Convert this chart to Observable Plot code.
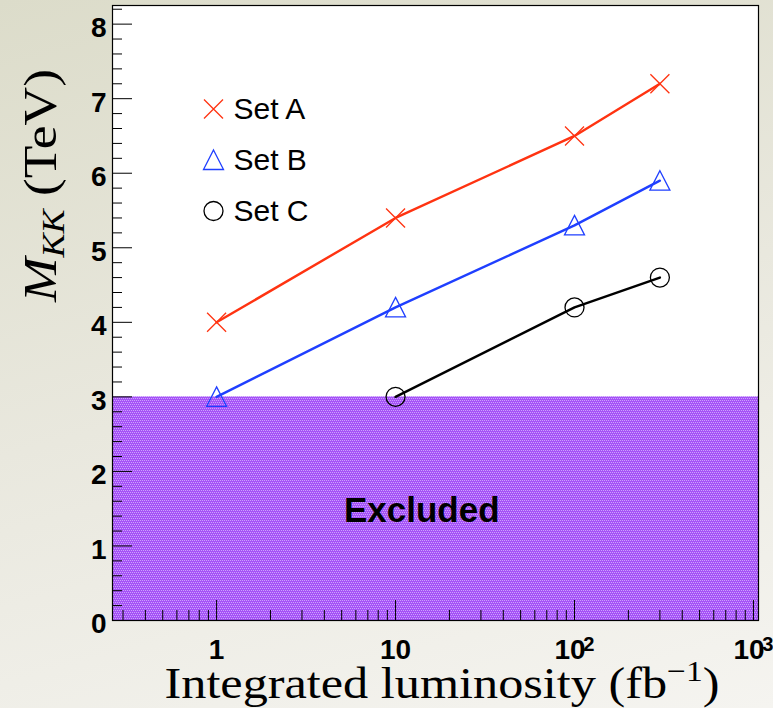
<!DOCTYPE html>
<html><head><meta charset="utf-8">
<script src="https://cdn.jsdelivr.net/npm/d3@7"></script>
<script src="https://cdn.jsdelivr.net/npm/@observablehq/plot@0.6"></script>
<style>
html,body{margin:0;padding:0;}
body{width:773px;height:708px;overflow:hidden;background:linear-gradient(165deg,#dcdcca 0%,#e9e8de 50%,#f5f4f0 100%);}
#chart svg{display:block;}
</style></head><body><div id="chart"></div>
<script>
// ---- data ----
const lumiA = [1, 10, 100, 300];
const massA = [4.0, 5.4, 6.5, 7.2];
const lumiB = [1, 10, 100, 300];
const massB = [3.0, 4.2, 5.3, 5.9];
const lumiC = [10, 100, 300];
const massC = [3.0, 4.2, 4.6];
const seriesNames = ["Set A", "Set B", "Set C"];
const seriesColors = ["#ff3311", "#1f3fff", "#000000"];
const excludedLimit = 3;
const excludedLabel = "Excluded";
const excludedLabelAt = {x: 14, y: 1.47};
const xDomain = [0.262, 1067];
const yDomain = [0, 8.25];
const xMajorTicks = [1, 10, 100, 1000];
const xTickLabels = ["1", "10", "10²", "10³"];
const yMajorTicks = [0, 1, 2, 3, 4, 5, 6, 7, 8];
const yTickLabels = ["0", "1", "2", "3", "4", "5", "6", "7", "8"];
const xTitle = "Integrated luminosity (fb";
const xTitleSup = "−1";
const yTitleMain = "M";
const yTitleSub = "KK";
const yTitleUnit = " (TeV)";

// ---- layout ----
const W = 773, H = 708;
const mL = 112, mR = 15, mT = 5, mB = 88;
const frameW = W - mL - mR, frameH = H - mT - mB;
const sansFont = "Liberation Sans, Arial, Helvetica, sans-serif";
const serifFont = "Liberation Serif, Times New Roman, serif";

const xMinorTicks = [];
for (const dec of [0.1, 1, 10, 100]) for (let m = 2; m <= 9; m++) {
  const v = m * dec; if (v > xDomain[0] && v < xDomain[1]) xMinorTicks.push(v);
}
const yMinorTicks = d3.range(1, 42).map(i => i / 5).filter(v => Math.abs(v - Math.round(v)) > 1e-6);

const symTimes = {draw(c, s) {const r = Math.sqrt(s / Math.PI); c.moveTo(-r, -r); c.lineTo(r, r); c.moveTo(-r, r); c.lineTo(r, -r);}};
const symTri = {draw(c, s) {const r = Math.sqrt(s / Math.PI); c.moveTo(0, -r); c.lineTo(r, r * 0.95); c.lineTo(-r, r * 0.95); c.closePath();}};
const symCirc = {draw(c, s) {const r = Math.sqrt(s / Math.PI); c.moveTo(r, 0); c.arc(0, 0, r, 0, 2 * Math.PI);}};

const series = [
  {name: seriesNames[0], color: seriesColors[0], symbol: symTimes, r: 9.5, pts: lumiA.map((x, i) => ({x, y: massA[i]}))},
  {name: seriesNames[1], color: seriesColors[1], symbol: symTri, r: 10, pts: lumiB.map((x, i) => ({x, y: massB[i]}))},
  {name: seriesNames[2], color: seriesColors[2], symbol: symCirc, r: 9.5, pts: lumiC.map((x, i) => ({x, y: massC[i]}))}
];

const marks = [
  Plot.frame({fill: "white"}),
  Plot.rect([{x1: xDomain[0], x2: xDomain[1], y1: 0, y2: excludedLimit}], {x1: "x1", x2: "x2", y1: "y1", y2: "y2", fill: "url(#exclPat)"}),
  Plot.ruleY(yMajorTicks, {y: d => d, insetRight: frameW - 20, stroke: "#000", strokeWidth: 1}),
  Plot.ruleY(yMinorTicks, {y: d => d, insetRight: frameW - 10, stroke: "#000", strokeWidth: 1}),
  Plot.ruleX(xMajorTicks.filter(v => v < xDomain[1]), {x: d => d, insetTop: frameH - 20, stroke: "#000", strokeWidth: 1}),
  Plot.ruleX(xMinorTicks, {x: d => d, insetTop: frameH - 10, stroke: "#000", strokeWidth: 1}),
  Plot.axisX(xMajorTicks, {tickSize: 0, tickPadding: 19, tickFormat: d => xTickLabels[xMajorTicks.indexOf(d)], label: null}),
  Plot.axisY(yMajorTicks, {tickSize: 0, tickPadding: 6, dy: 4, tickFormat: d => yTickLabels[yMajorTicks.indexOf(d)], label: null}),
  Plot.text([excludedLabelAt], {x: "x", y: "y", text: () => excludedLabel, fontSize: 35, fontWeight: "bold", fontFamily: sansFont, fill: "#000"})
];
for (const s of series) {
  marks.push(Plot.line(s.pts, {x: "x", y: "y", stroke: s.color, strokeWidth: 2.4}));
  marks.push(Plot.dot(s.pts, {x: "x", y: "y", symbol: s.symbol, r: s.r, stroke: s.color, fill: "none", strokeWidth: 1.3}));
}
series.forEach((s, i) => {
  marks.push(Plot.dot([s], {frameAnchor: "top-left", dx: 101, dy: 103.5 + 51 * i, symbol: s.symbol, r: s.r, stroke: s.color, fill: "none", strokeWidth: 1.3}));
  marks.push(Plot.text([s], {frameAnchor: "top-left", dx: 121, dy: 104 + 51 * i, text: "name", textAnchor: "start", lineAnchor: "middle", fontSize: 30, fontFamily: sansFont, fill: "#000"}));
});
marks.push(Plot.frame({stroke: "#000", strokeWidth: 1.2}));

const chart = Plot.plot({
  width: W, height: H,
  marginLeft: mL, marginRight: mR, marginTop: mT, marginBottom: mB,
  style: {background: "transparent", color: "#000"},
  x: {type: "log", domain: xDomain},
  y: {domain: yDomain},
  marks
});

const svg = d3.select(chart);
const defs = svg.insert("defs", ":first-child");
const pat = defs.append("pattern").attr("id", "exclPat").attr("patternUnits", "userSpaceOnUse").attr("width", 4).attr("height", 4);
pat.append("rect").attr("width", 4).attr("height", 4).attr("fill", "#a552f7");
for (const [px, py] of [[0, 0], [2, 0], [1, 2], [3, 2]]) {
  pat.append("rect").attr("x", px).attr("y", py).attr("width", 1).attr("height", 1).attr("fill", "#cda2fc");
}

// tick label fonts: style every tick-label text element directly
const tickLabelSet = new Set([...xTickLabels, ...yTickLabels]);
svg.selectAll("text").each(function() {
  if (tickLabelSet.has(this.textContent)) {
    d3.select(this).style("font-family", sansFont).style("font-weight", "bold").style("font-size", "28px").style("fill", "#000");
  }
});

// superscripts on x tick labels
svg.selectAll("text").each(function() {
  const t = d3.select(this);
  const m = /^10([²³])$/.exec(this.textContent);
  if (m) {
    const sup = m[1] === "²" ? "2" : "3";
    t.text(null);
    t.append("tspan").text("10");
    t.append("tspan").attr("font-size", "0.72em").attr("dx", "-0.12em").attr("dy", "-0.42em").text(sup);
  }
});

// axis titles
const xs = chart.scale("x").range, ys = chart.scale("y").range;
const xt = svg.append("text").attr("x", (xs[0] + xs[1]) / 2 + 7).attr("y", 698).attr("text-anchor", "middle")
  .attr("font-family", serifFont).attr("font-size", 45).attr("fill", "#000")
  .attr("textLength", 555).attr("lengthAdjust", "spacingAndGlyphs");
xt.append("tspan").text(xTitle);
xt.append("tspan").attr("font-size", 30).attr("dy", -17).text(xTitleSup);
xt.append("tspan").attr("dy", 17).text(")");

const yt = svg.append("text").attr("transform", `translate(56, ${(ys[0] + ys[1]) / 2 - 127}) rotate(-90)`).attr("text-anchor", "middle")
  .attr("font-family", serifFont).attr("font-size", 46).attr("fill", "#000")
  .attr("textLength", 233).attr("lengthAdjust", "spacingAndGlyphs");
yt.append("tspan").attr("font-style", "italic").text(yTitleMain);
yt.append("tspan").attr("font-style", "italic").attr("font-size", 31).attr("dy", 8).text(yTitleSub);
yt.append("tspan").attr("dy", -8).text(yTitleUnit);

document.getElementById("chart").appendChild(chart);
</script></body></html>
